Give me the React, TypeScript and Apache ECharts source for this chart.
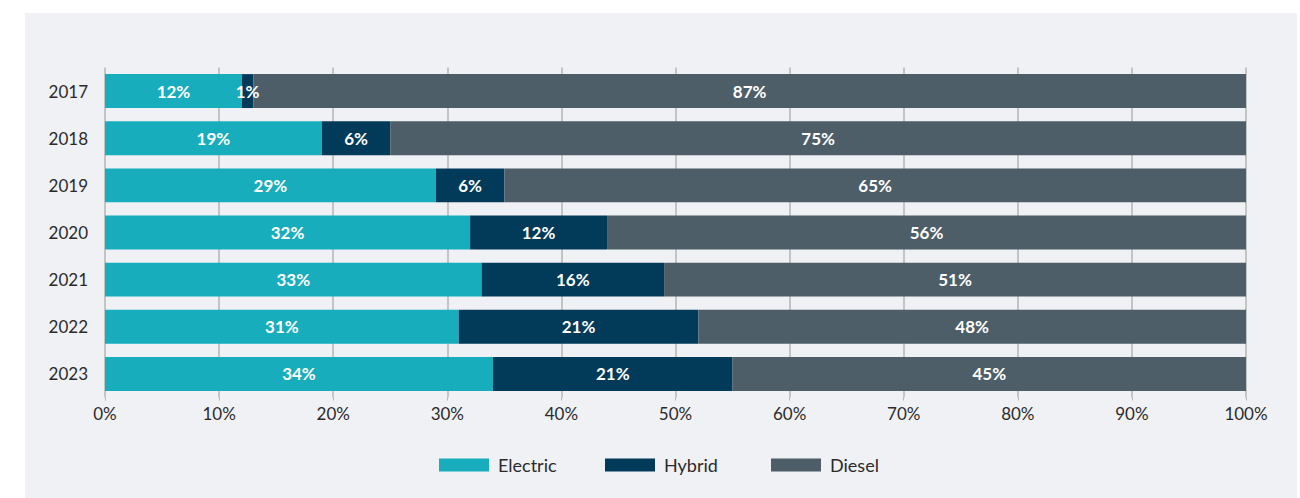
import React, { useEffect, useRef } from "react";
import * as echarts from "echarts";

const years = ["2017", "2018", "2019", "2020", "2021", "2022", "2023"];
const electric = [12, 19, 29, 32, 33, 31, 34];
const hybrid = [1, 6, 6, 12, 16, 21, 21];
const diesel = [87, 75, 65, 56, 51, 48, 45];
const seriesNames = ["Electric", "Hybrid", "Diesel"];
const colors = ["#17adbc", "#023a5a", "#4d5e68"];
const legendLefts = [439, 605, 771];

export default function App() {
  const ref = useRef<HTMLDivElement>(null);
  useEffect(() => {
    if (!ref.current) return;
    const chart = echarts.init(ref.current, null, { renderer: "svg" });
    const datasets = [electric, hybrid, diesel];
    chart.setOption({
      animation: false,
      backgroundColor: "transparent",
      textStyle: { fontFamily: "Lato" },
      grid: { left: 105, right: 54, top: 67.5, bottom: 100.5 },
      legend: seriesNames.map((name, i) => ({
        left: legendLefts[i],
        top: 456,
        padding: 0,
        icon: "rect",
        itemWidth: 50,
        itemHeight: 13,
        itemGap: 0,
        textStyle: { fontSize: 18, color: "#2b2b2b", fontFamily: "Lato", padding: [0, 0, 0, 4] },
        data: [name],
      })),
      xAxis: {
        type: "value",
        min: 0,
        max: 100,
        interval: 10,
        axisLine: { show: false },
        axisTick: { show: true, length: 3, lineStyle: { color: "#b5b5b5" } },
        splitLine: { show: true, lineStyle: { color: "#b5b5b5", width: 1.5 } },
        axisLabel: {
          formatter: "{value}%",
          fontSize: 17,
          color: "#2b2b2b",
          fontFamily: "Lato",
          margin: 7,
        },
      },
      yAxis: {
        type: "category",
        data: years,
        inverse: true,
        axisLine: { show: false },
        axisTick: { show: false },
        axisLabel: { fontSize: 17, color: "#2b2b2b", fontFamily: "Lato", margin: 17 },
      },
      series: seriesNames.map((name, i) => ({
        name,
        type: "bar",
        stack: "total",
        barCategoryGap: "28%",
        data: datasets[i],
        itemStyle: { color: colors[i] },
        label: {
          show: true,
          position: "inside",
          formatter: "{c}%",
          color: "#ffffff",
          fontWeight: "bold",
          fontSize: 17,
          fontFamily: "Lato",
        },
      })),
    });
    return () => chart.dispose();
  }, []);
  return (
    <div style={{ position: "fixed", left: 0, top: 0, width: 1300, height: 498, background: "#ffffff" }}>
      <div style={{ position: "absolute", left: 25, top: 13, width: 1272, height: 485, background: "#f0f1f4" }} />
      <div ref={ref} style={{ position: "absolute", left: 0, top: 0, width: 1300, height: 498 }} />
    </div>
  );
}
